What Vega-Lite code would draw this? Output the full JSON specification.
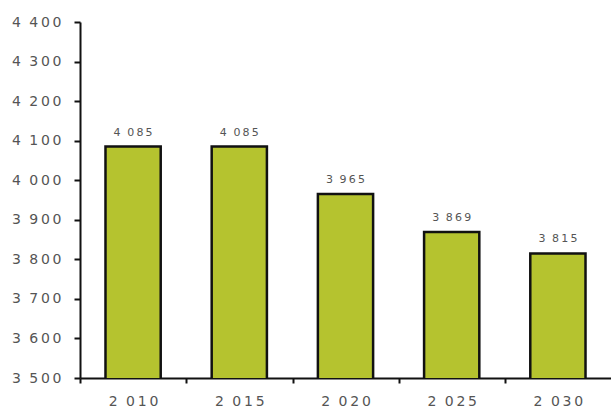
{
  "$schema": "https://vega.github.io/schema/vega-lite/v6.json",
  "width": 531,
  "height": 356,
  "autosize": {"type": "none"},
  "padding": {"left": 80, "top": 22, "right": 0, "bottom": 34},
  "background": "white",
  "config": {
    "view": {"stroke": null},
    "locale": {"number": {"decimal": ",", "thousands": "\u2009", "grouping": [3], "currency": ["", ""]}}
  },
  "data": {
    "values": [
      {"year": 2010, "value": 4085},
      {"year": 2015, "value": 4085},
      {"year": 2020, "value": 3965},
      {"year": 2025, "value": 3869},
      {"year": 2030, "value": 3815}
    ]
  },
  "encoding": {
    "x": {
      "field": "year",
      "type": "ordinal",
      "scale": {"paddingInner": 0.48, "paddingOuter": 0.24},
      "axis": {
        "title": null,
        "labelAngle": 0,
        "labelExpr": "replace(format(datum.value, ','), regexp('(.)(?=.)', 'g'), '$1\u2009')",
        "labelFont": "DejaVu Sans",
        "labelFontSize": 14,
        "labelColor": "#555555",
        "labelPadding": 11,
        "domainColor": "#111111",
        "domainWidth": 2,
        "tickColor": "#111111",
        "tickWidth": 2,
        "tickSize": 5,
        "tickOffset": -53,
        "labelOffset": 53
      }
    },
    "y": {
      "field": "value",
      "type": "quantitative",
      "scale": {"domain": [3500, 4400], "zero": false, "nice": false},
      "axis": {
        "title": null,
        "values": [3500, 3600, 3700, 3800, 3900, 4000, 4100, 4200, 4300, 4400],
        "labelExpr": "replace(format(datum.value, ','), regexp('(.)(?=.)', 'g'), '$1\u2009')",
        "grid": false,
        "labelFont": "DejaVu Sans",
        "labelFontSize": 14,
        "labelColor": "#555555",
        "labelPadding": 13,
        "domainColor": "#111111",
        "domainWidth": 2,
        "tickColor": "#111111",
        "tickWidth": 2,
        "tickSize": 6
      }
    }
  },
  "layer": [
    {
      "mark": {"type": "bar", "fill": "#b5c32f", "stroke": "#111111", "strokeWidth": 2.5, "clip": true}
    },
    {
      "mark": {
        "type": "text",
        "baseline": "bottom",
        "dy": -9,
        "font": "DejaVu Sans",
        "fontSize": 11,
        "fill": "#555555",
        "text": {"expr": "replace(format(datum.value, ','), regexp('(.)(?=.)', 'g'), '$1\u2009')"}
      }
    }
  ]
}
